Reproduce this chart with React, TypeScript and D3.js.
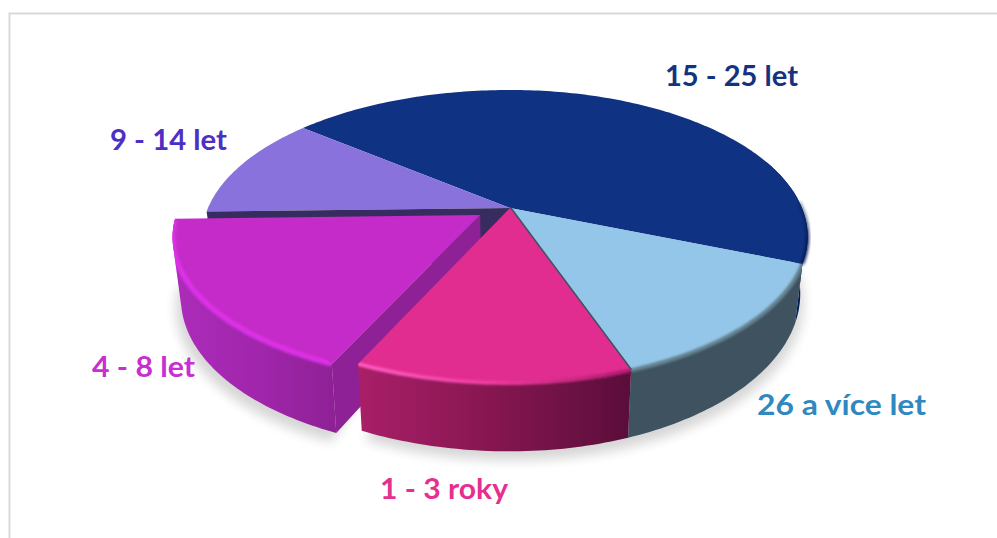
import React from "react";
import * as d3 from "d3";

const labels = ["15 - 25 let", "26 a více let", "1 - 3 roky", "4 - 8 let", "9 - 14 let"];
const shares = [45.0, 13.5, 12.3, 17.8, 11.4];
const topColors = ["#0f3282", "#93c6e8", "#e02d8f", "#c52bc8", "#8a72dc"];
const labelColors = ["#14337f", "#2f88c0", "#e52f91", "#c92fd0", "#4d2fc4"];
const labelX = [665, 757, 380, 92, 110];
const labelY = [86, 415, 499, 377, 150];
const labelW = [133, 169, 128, 103, 117];

const W = 997, H = 538;
const X0 = 510, Y0 = 208, AL = 302, AR = 292, B = 141, K = 0.1945;
const rad = (d: number) => (d * Math.PI) / 180;

type P = [number, number, number];
const project = (u: number, v: number, k = K): P => {
  const s = 1 / (1 - k * v);
  return [X0 + (u < 0 ? AL : AR) * u * s, Y0 + B * v * s, s];
};
const pt = (a: number, k = K, du = 0, dv = 0): P => project(Math.sin(a) + du, -Math.cos(a) + dv, k);
const extrude = (p: P, d = 55): P => [X0 + (p[0] - X0) * 0.975, p[1] + d * p[2], p[2]];
const line = d3.line<P>().x((p) => p[0]).y((p) => p[1]);
const samples = (a0: number, a1: number) => d3.range(0, 1.0001, 1 / Math.max(2, Math.round(Math.abs(a1 - a0) / rad(1)))).map((t) => a0 + (a1 - a0) * t);

const arcs = d3.pie<number>().sort(null).startAngle(rad(309.6)).endAngle(rad(669.6))(shares);
const [navy, blue, pink, mag, purple] = arcs;

const EK = 0.137, DU = -0.098, DV = 0.05, MD = 60;
const arcPts = (a0: number, a1: number, k = K, du = 0, dv = 0) => samples(a0, a1).map((a) => pt(a, k, du, dv));
const top = (d: any, k = K, du = 0, dv = 0) => line([project(du, dv, k), ...arcPts(d.startAngle, d.endAngle, k, du, dv)]) + "Z";
const wall = (pts: P[], d = 55) => line([...pts, ...pts.map((p) => extrude(p, d)).reverse()]) + "Z";

const magArc = arcPts(mag.startAngle, mag.endAngle, EK, DU, DV);
const magApex = project(DU, DV, EK);
const pinkArc = arcPts(pink.startAngle, pink.endAngle);
const blueArc = arcPts(blue.startAngle, blue.endAngle);
const navyWall = arcPts(navy.endAngle - rad(42), navy.endAngle);
const navyEdge = arcPts(navy.endAngle - rad(24), navy.endAngle);
const apex = project(0, 0);
const purpleCorner = pt(purple.startAngle);
const blueEnd = pt(blue.endAngle);
const outerBottom = arcPts(navy.endAngle - rad(42), pink.endAngle).map((p) => extrude(p));
const magBottom = magArc.map((p) => extrude(p, MD));
const magHull = d3.polygonHull([...magArc, ...magBottom].map((p) => [p[0], p[1]] as [number, number]))!;
const magSideHull = "M" + magHull.map((p) => p.join(",")).join("L") + "Z";

const xExt = (pts: P[]) => d3.extent(pts, (p) => p[0]) as [number, number];

function HGrad({ id, pts, stops }: { id: string; pts: P[]; stops: string[] }) {
  const [x1, x2] = xExt(pts);
  const t = d3.scaleLinear().domain([0, stops.length - 1]).range([0, 100]);
  return (
    <linearGradient id={id} gradientUnits="userSpaceOnUse" x1={x1} x2={x2} y1={0} y2={0}>
      {stops.map((c, i) => <stop key={i} offset={`${t(i)}%`} stopColor={c} />)}
    </linearGradient>
  );
}

export default function App() {
  return (
    <svg width={W} height={H} viewBox={`0 0 ${W} ${H}`} style={{ position: "absolute", left: 0, top: 0, display: "block", background: "#fff" }}>
      <defs>
        <filter id="sh" x="-10%" y="-20%" width="120%" height="140%"><feGaussianBlur stdDeviation="6" /></filter>
        <filter id="b1" x="-10%" y="-30%" width="120%" height="160%"><feGaussianBlur stdDeviation="1.2" /></filter>
        <filter id="b2" x="-30%" y="-30%" width="160%" height="160%"><feGaussianBlur stdDeviation="1.6" /></filter>
        <HGrad id="gMag" pts={magArc} stops={["#ab2cba", "#a226ad", "#8f2196"]} />
        <HGrad id="gPink" pts={pinkArc} stops={["#a91f68", "#851650", "#5a0d3a"]} />
        <HGrad id="gPinkRim" pts={pinkArc} stops={["#ff5cc0", "#ee3a9e", "#a81a68"]} />
        <linearGradient id="gNavyRim" gradientUnits="userSpaceOnUse" x1={0} x2={0} y1={175} y2={240}>
          <stop offset="0%" stopColor="#06184a" stopOpacity={0} />
          <stop offset="100%" stopColor="#06184a" />
        </linearGradient>
        <clipPath id="cMag"><path d={magSideHull} /></clipPath>
        <clipPath id="cPink"><path d={wall(pinkArc)} /><path d={top(pink)} /></clipPath>
        <clipPath id="cBlue"><path d={wall(blueArc)} /><path d={top(blue)} /></clipPath>
      </defs>

      <path d={`M${W} 13.5H9.5V${H}`} fill="none" stroke="#d9d9d9" strokeWidth={2} />

      <g filter="url(#sh)" opacity={0.16}>
        <path d={line([...outerBottom.map((p) => [p[0] + 3, p[1] + 9, 1] as P), [X0, Y0, 1]]) + "Z"} />
        <path d={line([...magBottom.map((p) => [p[0] - 5, p[1] + 9, 1] as P), magApex]) + "Z"} />
      </g>

      {/* outer side walls */}
      <path d={wall(navyWall)} fill="#041c56" />
      <path d={wall(blueArc)} fill="#3e525f" />

      {/* top faces at the back */}
      <path d={top(navy)} fill={topColors[0]} />
      <path d={top(purple)} fill={topColors[4]} />
      <path d={top(blue)} fill={topColors[1]} />

      {/* purple cut face seen through the gap */}
      <path d={wall([apex, purpleCorner])} fill="#372c5f" />

      {/* rims at the back */}
      <g clipPath="url(#cBlue)">
        <path d={line(blueArc) ?? ""} fill="none" stroke="#63808f" strokeWidth={4} filter="url(#b1)" />
      </g>
      <path d={line(navyEdge) ?? ""} fill="none" stroke="url(#gNavyRim)" strokeWidth={3} filter="url(#b2)" />

      {/* pulled out slice */}
      <path d={magSideHull} fill="url(#gMag)" />
      <path d={wall([magApex, magArc[0]], MD)} fill="#8f2196" />
      <path d={top(mag, EK, DU, DV)} fill={topColors[3]} />
      <g clipPath="url(#cMag)">
        <path d={line(magArc) ?? ""} fill="none" stroke="#e030ea" strokeWidth={5} filter="url(#b2)" />
      </g>

      {/* front slice */}
      <path d={wall(pinkArc)} fill="url(#gPink)" />
      <path d={line([apex, blueEnd]) ?? ""} stroke="#3e525f" strokeWidth={3} fill="none" />
      <path d={top(pink)} fill={topColors[2]} />
      <g clipPath="url(#cPink)">
        <path d={line(pinkArc) ?? ""} fill="none" stroke="url(#gPinkRim)" strokeWidth={4} filter="url(#b1)" />
      </g>

      {labels.map((t, i) => (
        <text key={t} x={labelX[i]} y={labelY[i]} fill={labelColors[i]} fontFamily="Lato, sans-serif" fontWeight={700} fontSize={29} textLength={labelW[i]} lengthAdjust="spacingAndGlyphs">
          {t}
        </text>
      ))}
    </svg>
  );
}
